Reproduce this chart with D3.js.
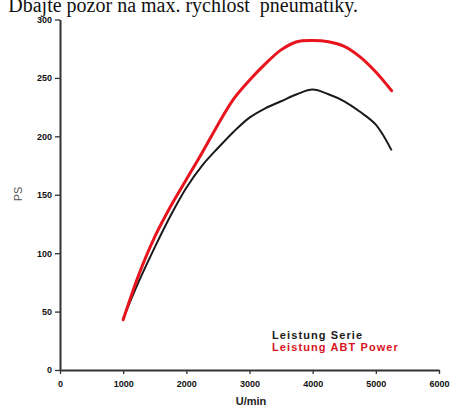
<!DOCTYPE html>
<html><head><meta charset="utf-8">
<script src="https://cdn.jsdelivr.net/npm/d3@7"></script>
<style>body{margin:0;background:#fff}svg{display:block}</style>
</head><body>
<script>
const rpm = [1000,1250,1500,1750,2000,2250,2500,2750,3000,3250,3500,3750,4000,4250,4500,4750,5000,5250];
const serie = [44,76,105,132,156,175,190,204,216,224,230,236,240,236,230,221,210,188];
const abt = [43,82,114,140,163,186,210,232,248,262,274,281,282,281,277,268,255,239];
const xTicks = [0,1000,2000,3000,4000,5000,6000];
const yTicks = [0,50,100,150,200,250,300];
const legendLabels = ["Leistung Serie","Leistung ABT Power"];
const title = "Dbajte pozor na max. rychlost  pneumatiky.";

const W=450,H=406;
const svg=d3.select("body").append("svg").attr("width",W).attr("height",H);
const x=d3.scaleLinear().domain([0,6000]).range([60,439]);
const y=d3.scaleLinear().domain([0,300]).range([370,19.5]);

svg.append("text").attr("x",358).attr("y",12).attr("text-anchor","end")
  .style("white-space","pre").attr("font-family","Liberation Serif, Times New Roman, serif")
  .attr("font-size",20).attr("fill","#111").text(title);

const fmt=d=>String(d);
const ax=svg.append("g").attr("transform","translate(0,370)")
  .call(d3.axisBottom(x).tickValues(xTicks).tickSize(4).tickSizeOuter(0).tickPadding(7).tickFormat(fmt));
const ay=svg.append("g").attr("transform","translate(60,0)")
  .call(d3.axisLeft(y).tickValues(yTicks).tickSize(5).tickSizeOuter(0).tickPadding(3).tickFormat(fmt));
[ax,ay].forEach(g=>{
  g.select(".domain").attr("stroke","#333").attr("stroke-width",2);
  g.selectAll(".tick line").attr("stroke","#333").attr("stroke-width",1.3);
  g.selectAll("text").attr("font-family","Liberation Sans, Arial, sans-serif").attr("font-size",9)
   .attr("font-weight","bold").attr("fill","#111");
});

svg.append("text").attr("x",251).attr("y",405).attr("text-anchor","middle")
  .attr("font-family","Liberation Sans, Arial, sans-serif").attr("font-size",11).attr("font-weight","bold")
  .attr("fill","#222").text("U/min");
svg.append("text").attr("transform","translate(22,194) rotate(-90)").attr("text-anchor","middle")
  .attr("font-family","Liberation Sans, Arial, sans-serif").attr("font-size",11)
  .attr("fill","#555").text("PS");

const line=d3.line().x(d=>x(d[0])).y(d=>y(d[1])).curve(d3.curveCatmullRom.alpha(0.5));
svg.append("path").datum(rpm.map((r,i)=>[r,serie[i]])).attr("d",line)
  .attr("fill","none").attr("stroke","#1a1a1a").attr("stroke-width",2);
svg.append("path").datum(rpm.map((r,i)=>[r,abt[i]])).attr("d",line)
  .attr("fill","none").attr("stroke","#e8141e").attr("stroke-width",3).attr("stroke-linecap","round");

const colors=["#1a1a1a","#d8141e"];
legendLabels.forEach((t,i)=>{
  svg.append("text").attr("x",272).attr("y",338.5+i*12.5)
    .attr("font-family","Liberation Sans, Arial, sans-serif").attr("font-size",11).attr("font-weight","bold")
    .attr("letter-spacing",1.1).attr("fill",colors[i]).text(t);
});
</script>
</body></html>
